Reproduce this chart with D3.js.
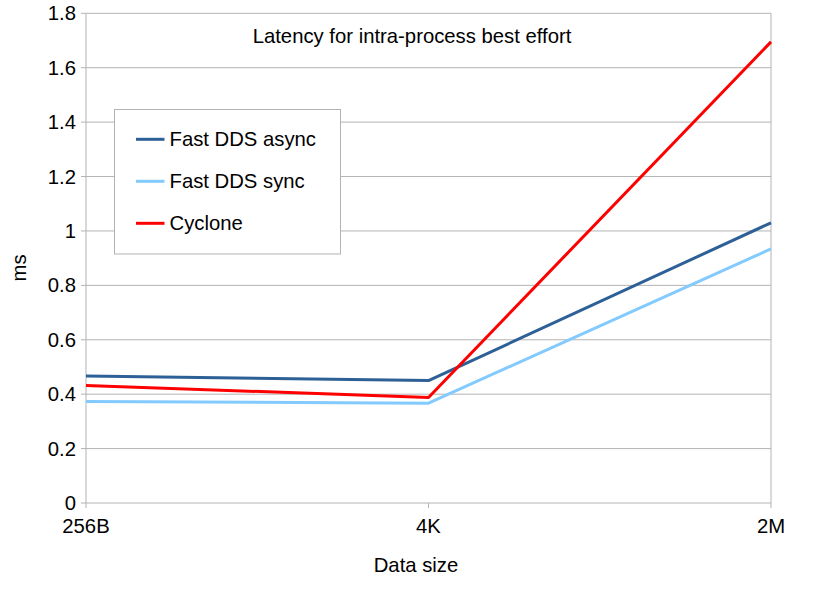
<!DOCTYPE html>
<html>
<head>
<meta charset="utf-8">
<script src="https://cdn.jsdelivr.net/npm/d3@7"></script>
<style>
  body { margin: 0; background: #fff; }
  svg { display: block; font-family: "Liberation Sans", Arial, sans-serif; }
</style>
</head>
<body>
<div id="chart"></div>
<script>
// data
const sizes = ['256B', '4K', '2M'];
const fastAsync = [0.467, 0.450, 1.030];
const fastSync = [0.373, 0.367, 0.934];
const cyclone = [0.432, 0.388, 1.695];
const yTicks = [0, 0.2, 0.4, 0.6, 0.8, 1, 1.2, 1.4, 1.6, 1.8];

const series = [
  {name: 'Fast DDS async', values: fastAsync, color: '#2d6096'},
  {name: 'Fast DDS sync', values: fastSync, color: '#83caff'},
  {name: 'Cyclone', values: cyclone, color: '#ff0000'}
];

const width = 825, height = 606;
const margin = {top: 13.3, right: 54, bottom: 103, left: 86};
const fs = 20.3;

const svg = d3.select('#chart').append('svg')
  .attr('width', width)
  .attr('height', height);

const x = d3.scalePoint()
  .domain(sizes)
  .range([margin.left, width - margin.right]);

const y = d3.scaleLinear()
  .domain([0, 1.8])
  .range([height - margin.bottom, margin.top]);

// gridlines
svg.append('g')
  .selectAll('line')
  .data(yTicks)
  .join('line')
    .attr('x1', margin.left - 5)
    .attr('x2', width - margin.right)
    .attr('y1', d => y(d))
    .attr('y2', d => y(d))
    .attr('stroke', '#b3b3b3')
    .attr('stroke-width', 1);

// vertical axis line + right border
svg.append('line')
  .attr('x1', margin.left).attr('x2', margin.left)
  .attr('y1', margin.top).attr('y2', y(0) + 5)
  .attr('stroke', '#b3b3b3');
svg.append('line')
  .attr('x1', width - margin.right).attr('x2', width - margin.right)
  .attr('y1', margin.top).attr('y2', y(0) + 5)
  .attr('stroke', '#b3b3b3');
svg.append('line')
  .attr('x1', x('4K')).attr('x2', x('4K'))
  .attr('y1', y(0)).attr('y2', y(0) + 5)
  .attr('stroke', '#b3b3b3');

// y tick labels
svg.append('g')
  .attr('font-size', fs)
  .attr('text-anchor', 'end')
  .selectAll('text')
  .data(yTicks)
  .join('text')
    .attr('x', margin.left - 10)
    .attr('y', d => y(d) + 7)
    .text(d => d3.format('~g')(d));

// x tick labels
svg.append('g')
  .attr('font-size', fs)
  .attr('text-anchor', 'middle')
  .selectAll('text')
  .data(sizes)
  .join('text')
    .attr('x', d => x(d))
    .attr('y', y(0) + 30)
    .text(d => d);

// axis titles
svg.append('text')
  .attr('x', 416)
  .attr('y', 572)
  .attr('font-size', fs)
  .attr('text-anchor', 'middle')
  .text('Data size');

svg.append('text')
  .attr('transform', 'translate(26,268) rotate(-90)')
  .attr('font-size', fs)
  .attr('text-anchor', 'middle')
  .text('ms');

// chart title
svg.append('text')
  .attr('x', 412)
  .attr('y', 43)
  .attr('font-size', fs)
  .attr('text-anchor', 'middle')
  .text('Latency for intra-process best effort');

// lines
const line = d3.line()
  .x((d, i) => x(sizes[i]))
  .y(d => y(d));

svg.append('g')
  .selectAll('path')
  .data(series)
  .join('path')
    .attr('fill', 'none')
    .attr('stroke', d => d.color)
    .attr('stroke-width', 3)
    .attr('stroke-linejoin', 'round')
    .attr('d', d => line(d.values));

// legend
const legend = svg.append('g');
legend.append('rect')
  .attr('x', 114.5)
  .attr('y', 109.5)
  .attr('width', 226)
  .attr('height', 144.5)
  .attr('fill', '#fff')
  .attr('stroke', '#b3b3b3');

const item = legend.selectAll('g')
  .data(series)
  .join('g')
    .attr('transform', (d, i) => `translate(0,${139.3 + i * 42})`);
item.append('line')
  .attr('x1', 136).attr('x2', 164.5)
  .attr('stroke', d => d.color)
  .attr('stroke-width', 3);
item.append('text')
  .attr('x', 169.5)
  .attr('y', 7)
  .attr('font-size', fs)
  .text(d => d.name);
</script>
</body>
</html>
